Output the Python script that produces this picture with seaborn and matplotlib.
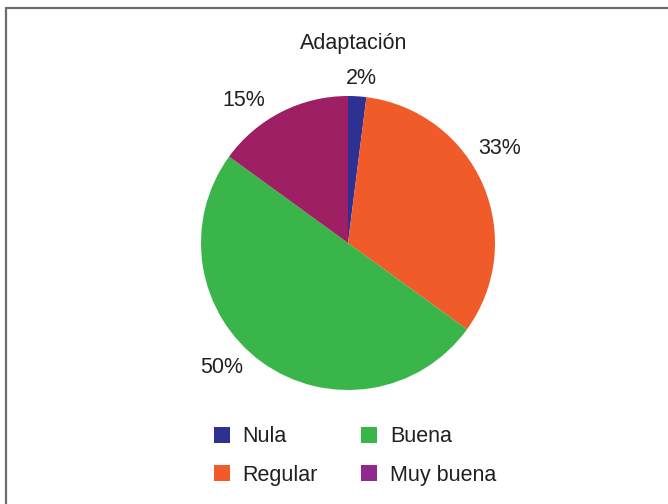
import seaborn as sns
import matplotlib.pyplot as plt
from matplotlib.patches import Patch

# Datos del gráfico
categorias = ["Nula", "Regular", "Buena", "Muy buena"]
porcentajes = [2, 33, 50, 15]
etiquetas = ["2%", "33%", "50%", "15%"]
colores_pie = ["#2E3192", "#F15A29", "#39B54A", "#9E1F63"]
colores_leyenda = ["#2E3192", "#F15A29", "#39B54A", "#92278F"]
# posición de cada etiqueta (en radios, relativo al centro) como en Excel
pos_etiquetas = [(0.09, 1.12), (1.03, 0.64), (-0.86, -0.85), (-0.71, 0.97)]

sns.set_theme(style="white")
plt.rcParams['font.family'] = ['Liberation Sans', 'DejaVu Sans']
color_texto = "#231F20"

fig = plt.figure(figsize=(6.68, 5.04), dpi=100)

# marco gris (solo izquierda y arriba visibles)
fig.add_artist(plt.Line2D([5.5 / 668, 5.5 / 668], [0, 1 - 8 / 504], color="#6d6d6d", lw=1.6))
fig.add_artist(plt.Line2D([5.5 / 668, 1], [1 - 8 / 504, 1 - 8 / 504], color="#6d6d6d", lw=1.6))

# eje para la torta: centro (348, 243), radio 147 px
cx, cy, r = 348, 243, 147
ax = fig.add_axes([(cx - r) / 668, (504 - cy - r) / 504, 2 * r / 668, 2 * r / 504])
wedges, texts = ax.pie(porcentajes, labels=etiquetas, colors=colores_pie,
                       startangle=90, counterclock=False, labeldistance=1.2,
                       wedgeprops=dict(linewidth=0),
                       textprops=dict(fontsize=15.5, color=color_texto))
for t, p in zip(texts, pos_etiquetas):
    t.set_position(p)
    t.set_ha("center")
    t.set_va("center")
ax.set_xlim(-1, 1)
ax.set_ylim(-1, 1)
ax.axis("off")

fig.text(354 / 668, 1 - 44 / 504, "Adaptación", ha="center", va="center",
         fontsize=15.5, color=color_texto)

handles = [Patch(facecolor=c, edgecolor="none") for c in colores_leyenda]
fig.legend(handles, categorias, ncol=2, loc="center",
           bbox_to_anchor=(355 / 668, 1 - 456 / 504), frameon=False,
           fontsize=15.5, labelcolor=color_texto, handlelength=0.75,
           handleheight=0.75, handletextpad=0.6, columnspacing=2.0,
           labelspacing=0.8)

fig.savefig("out.png", dpi=100)
